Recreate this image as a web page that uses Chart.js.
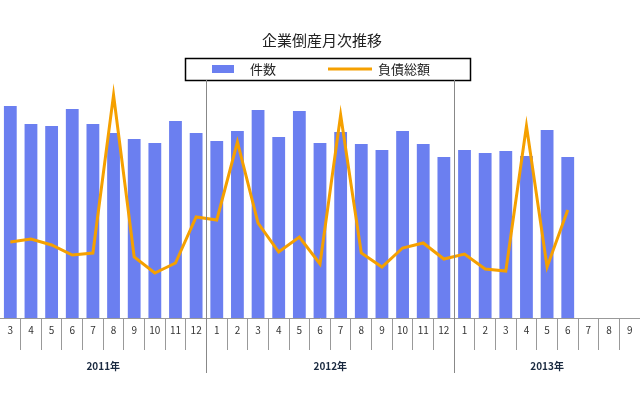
<!DOCTYPE html>
<html>
<head>
<meta charset="utf-8">
<script src="https://cdn.jsdelivr.net/npm/chart.js@4/dist/chart.umd.min.js"></script>
<style>
  html, body { margin: 0; padding: 0; background: #fff; }
  #wrap { width: 640px; height: 400px; }
</style>
</head>
<body>
<div id="wrap"><canvas id="c" width="640" height="400"></canvas></div>
<script>
// ── Data (bar/line units are relative heights) ──
var months = ['3','4','5','6','7','8','9','10','11','12',
              '1','2','3','4','5','6','7','8','9','10','11','12',
              '1','2','3','4','5','6','7','8','9'];
var years = [
  { label: '2011年', from: 0, to: 9 },
  { label: '2012年', from: 10, to: 21 },
  { label: '2013年', from: 22, to: 30 }
];
var counts = [212, 194, 192, 209, 194, 185, 179, 175, 197, 185,
              177, 187, 208, 181, 207, 175, 186, 174, 168, 187, 174, 161,
              168, 165, 167, 162, 188, 161, null, null, null];
var debt = [76, 79, 73, 63, 65, 223, 61, 45, 55, 101,
            98, 176, 95, 66, 81, 54, 203, 65, 51, 70, 75, 59,
            64, 49, 47, 192, 51, 108, null, null, null];

var blue = '#6b7ff0';
var orange = '#f5a000';
var font = "'Noto Sans CJK JP', 'DejaVu Sans', sans-serif";

// ── Title, legend box, year labels and separators ──
var decor = {
  id: 'decor',
  afterDraw: function (chart) {
    var c = chart.ctx;
    var x = chart.scales.x;
    var area = chart.chartArea;
    c.save();
    c.fillStyle = '#222';
    c.font = '15px ' + font;
    c.textAlign = 'center';
    c.textBaseline = 'middle';
    c.fillText('企業倒産月次推移', 322, 40);

    // legend
    c.fillStyle = '#fff';
    c.fillRect(185, 58, 285, 22);
    c.strokeStyle = '#000';
    c.lineWidth = 1.5;
    c.strokeRect(185.5, 58.5, 285, 22);
    c.fillStyle = blue;
    c.fillRect(212, 65, 22, 8);
    c.strokeStyle = orange;
    c.lineWidth = 3;
    c.beginPath(); c.moveTo(328, 69); c.lineTo(372, 69); c.stroke();
    c.fillStyle = '#222';
    c.font = '13px ' + font;
    c.textAlign = 'left';
    c.fillText('件数', 250, 69);
    c.fillText('負債総額', 378, 69);

    // year separators and labels
    var half = (x.getPixelForValue(1) - x.getPixelForValue(0)) / 2;
    c.strokeStyle = '#888';
    c.lineWidth = 1;
    years.forEach(function (y, i) {
      if (i > 0) {
        var px = Math.round(x.getPixelForValue(y.from) - half) + 0.5;
        c.beginPath(); c.moveTo(px, 80); c.lineTo(px, 373); c.stroke();
      }
      var mid = (x.getPixelForValue(y.from) + x.getPixelForValue(y.to)) / 2;
      c.fillStyle = '#1a2a40';
      c.font = 'bold 10px ' + font;
      c.textAlign = 'center';
      c.fillText(y.label, mid, 366);
    });
    c.restore();
  }
};

new Chart(document.getElementById('c'), {
  data: {
    labels: months,
    datasets: [
      {
        type: 'line', label: '負債総額', data: debt, yAxisID: 'y',
        borderColor: orange, borderWidth: 3, pointRadius: 0, tension: 0, order: 0
      },
      {
        type: 'bar', label: '件数', data: counts, yAxisID: 'y',
        backgroundColor: blue, barPercentage: 0.62, categoryPercentage: 1, order: 1
      }
    ]
  },
  options: {
    responsive: false,
    animation: false,
    layout: { padding: { top: 80, left: -2, right: 0, bottom: 0 } },
    plugins: { legend: { display: false }, title: { display: false }, tooltip: { enabled: false } },
    scales: {
      x: {
        offset: true,
        afterFit: function (s) { s.height = 82; },
        grid: { offset: true, drawOnChartArea: false, tickLength: 32, color: '#999' },
        border: { color: '#999' },
        ticks: { color: '#333', font: { family: font, size: 10 }, padding: -26, maxRotation: 0, autoSkip: false }
      },
      y: { display: false, min: 0, max: 238 }
    }
  },
  plugins: [decor]
});
</script>
</body>
</html>
